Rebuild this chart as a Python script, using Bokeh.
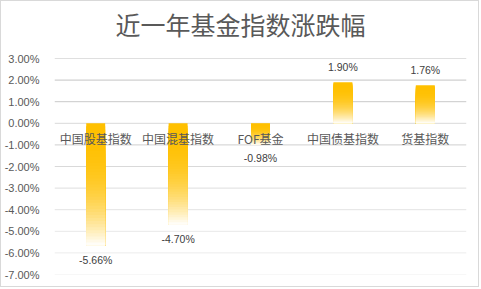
from bokeh.plotting import figure
from bokeh.models import Range1d, FixedTicker, PrintfTickFormatter, Span, ColumnDataSource, Title
from bokeh.core.properties import value
from bokeh.embed import file_html
from bokeh.resources import INLINE

title_text = "近一年基金指数涨跌幅"
categories = ["中国股基指数", "中国混基指数", "FOF基金", "中国债基指数", "货基指数"]
changes = [-5.66, -4.70, -0.98, 1.90, 1.76]
y_ticks = [3, 2, 1, 0, -1, -2, -3, -4, -5, -6, -7]
grid_colors = ["#BFBFBF", "#C4C4C4", "#C9C9C9", "#D9D9D9", "#CFCFCF", "#D9D9D9",
               "#DEDEDE", "#E3E3E3", "#E8E8E8", "#ECECEC", "#F0F0F0"]

n = len(categories)
centers = [i + 0.5 for i in range(n)]

p = figure(width=479, height=287, output_backend="svg", toolbar_location=None,
           title_location=None,
           x_range=Range1d(0, n), y_range=Range1d(min(y_ticks), max(y_ticks)),
           min_border_left=51, min_border_right=14, min_border_top=57, min_border_bottom=14)
p.styles = {"border": "1px solid #D9D9D9"}
p.outline_line_color = None
p.background_fill_color = "white"
p.border_fill_color = "white"
p.xaxis.visible = False
p.xgrid.grid_line_color = None
p.ygrid.grid_line_color = None

# spacer between frame and title, then the title itself (stacked outward)
p.add_layout(Title(text=" ", text_font_size="13px", standoff=0), "above")
p.add_layout(Title(text=title_text, text_font="Noto Sans CJK SC", text_font_size="25px",
                   text_font_style="normal", text_color="#595959", align="left",
                   offset=61, standoff=0), "above")

# y axis
yax = p.yaxis[0]
yax.ticker = FixedTicker(ticks=y_ticks)
yax.formatter = PrintfTickFormatter(format="%.2f%%")
yax.major_label_text_font = "Liberation Sans"
yax.major_label_text_font_size = "11px"
yax.major_label_text_color = "#595959"
yax.axis_line_color = None
yax.major_tick_line_color = None
yax.minor_tick_line_color = None
yax.major_label_standoff = 9

# gridlines
for t, c in zip(y_ticks, grid_colors):
    p.add_layout(Span(location=t, dimension="width", line_color=c, line_width=1, level="underlay"))

# gradient bars (top solid #FFC000 fading to white at bottom)
N = 40
half_w = 0.115
lefts, rights, tops, bottoms, colors = [], [], [], [], []
for x, v in zip(centers, changes):
    hi, lo = max(v, 0), min(v, 0)
    for i in range(N):
        t = (i + 0.5) / N
        f = t ** 2.5
        r = 255
        g = int(round(192 + (255 - 192) * f))
        b = int(round(0 + 255 * f))
        lefts.append(x - half_w)
        rights.append(x + half_w)
        tops.append(hi - (hi - lo) * i / N)
        bottoms.append(lo)
        colors.append("#%02X%02X%02X" % (r, g, b))
p.quad(left=lefts, right=rights, top=tops, bottom=bottoms, fill_color=colors, line_color=None)

# category labels near zero line
p.text(x=centers, y=[0] * n, text=categories, text_align="center", text_baseline="middle",
       y_offset=15, text_font=value("Noto Sans CJK SC"), text_font_size="12px", text_color="#595959")

# value labels
neg = ColumnDataSource(dict(x=[c for c, v in zip(centers, changes) if v < 0],
                            y=[v for v in changes if v < 0],
                            t=["%.2f%%" % v for v in changes if v < 0]))
pos = ColumnDataSource(dict(x=[c for c, v in zip(centers, changes) if v >= 0],
                            y=[v for v in changes if v >= 0],
                            t=["%.2f%%" % v for v in changes if v >= 0]))
p.text(x="x", y="y", text="t", source=neg, text_align="center", text_baseline="middle",
       y_offset=14, text_font=value("Liberation Sans"), text_font_size="10.5px", text_color="#404040")
p.text(x="x", y="y", text="t", source=pos, text_align="center", text_baseline="middle",
       y_offset=-15, text_font=value("Liberation Sans"), text_font_size="10.5px", text_color="#404040")

open("out.html", "w").write(file_html(p, INLINE))
